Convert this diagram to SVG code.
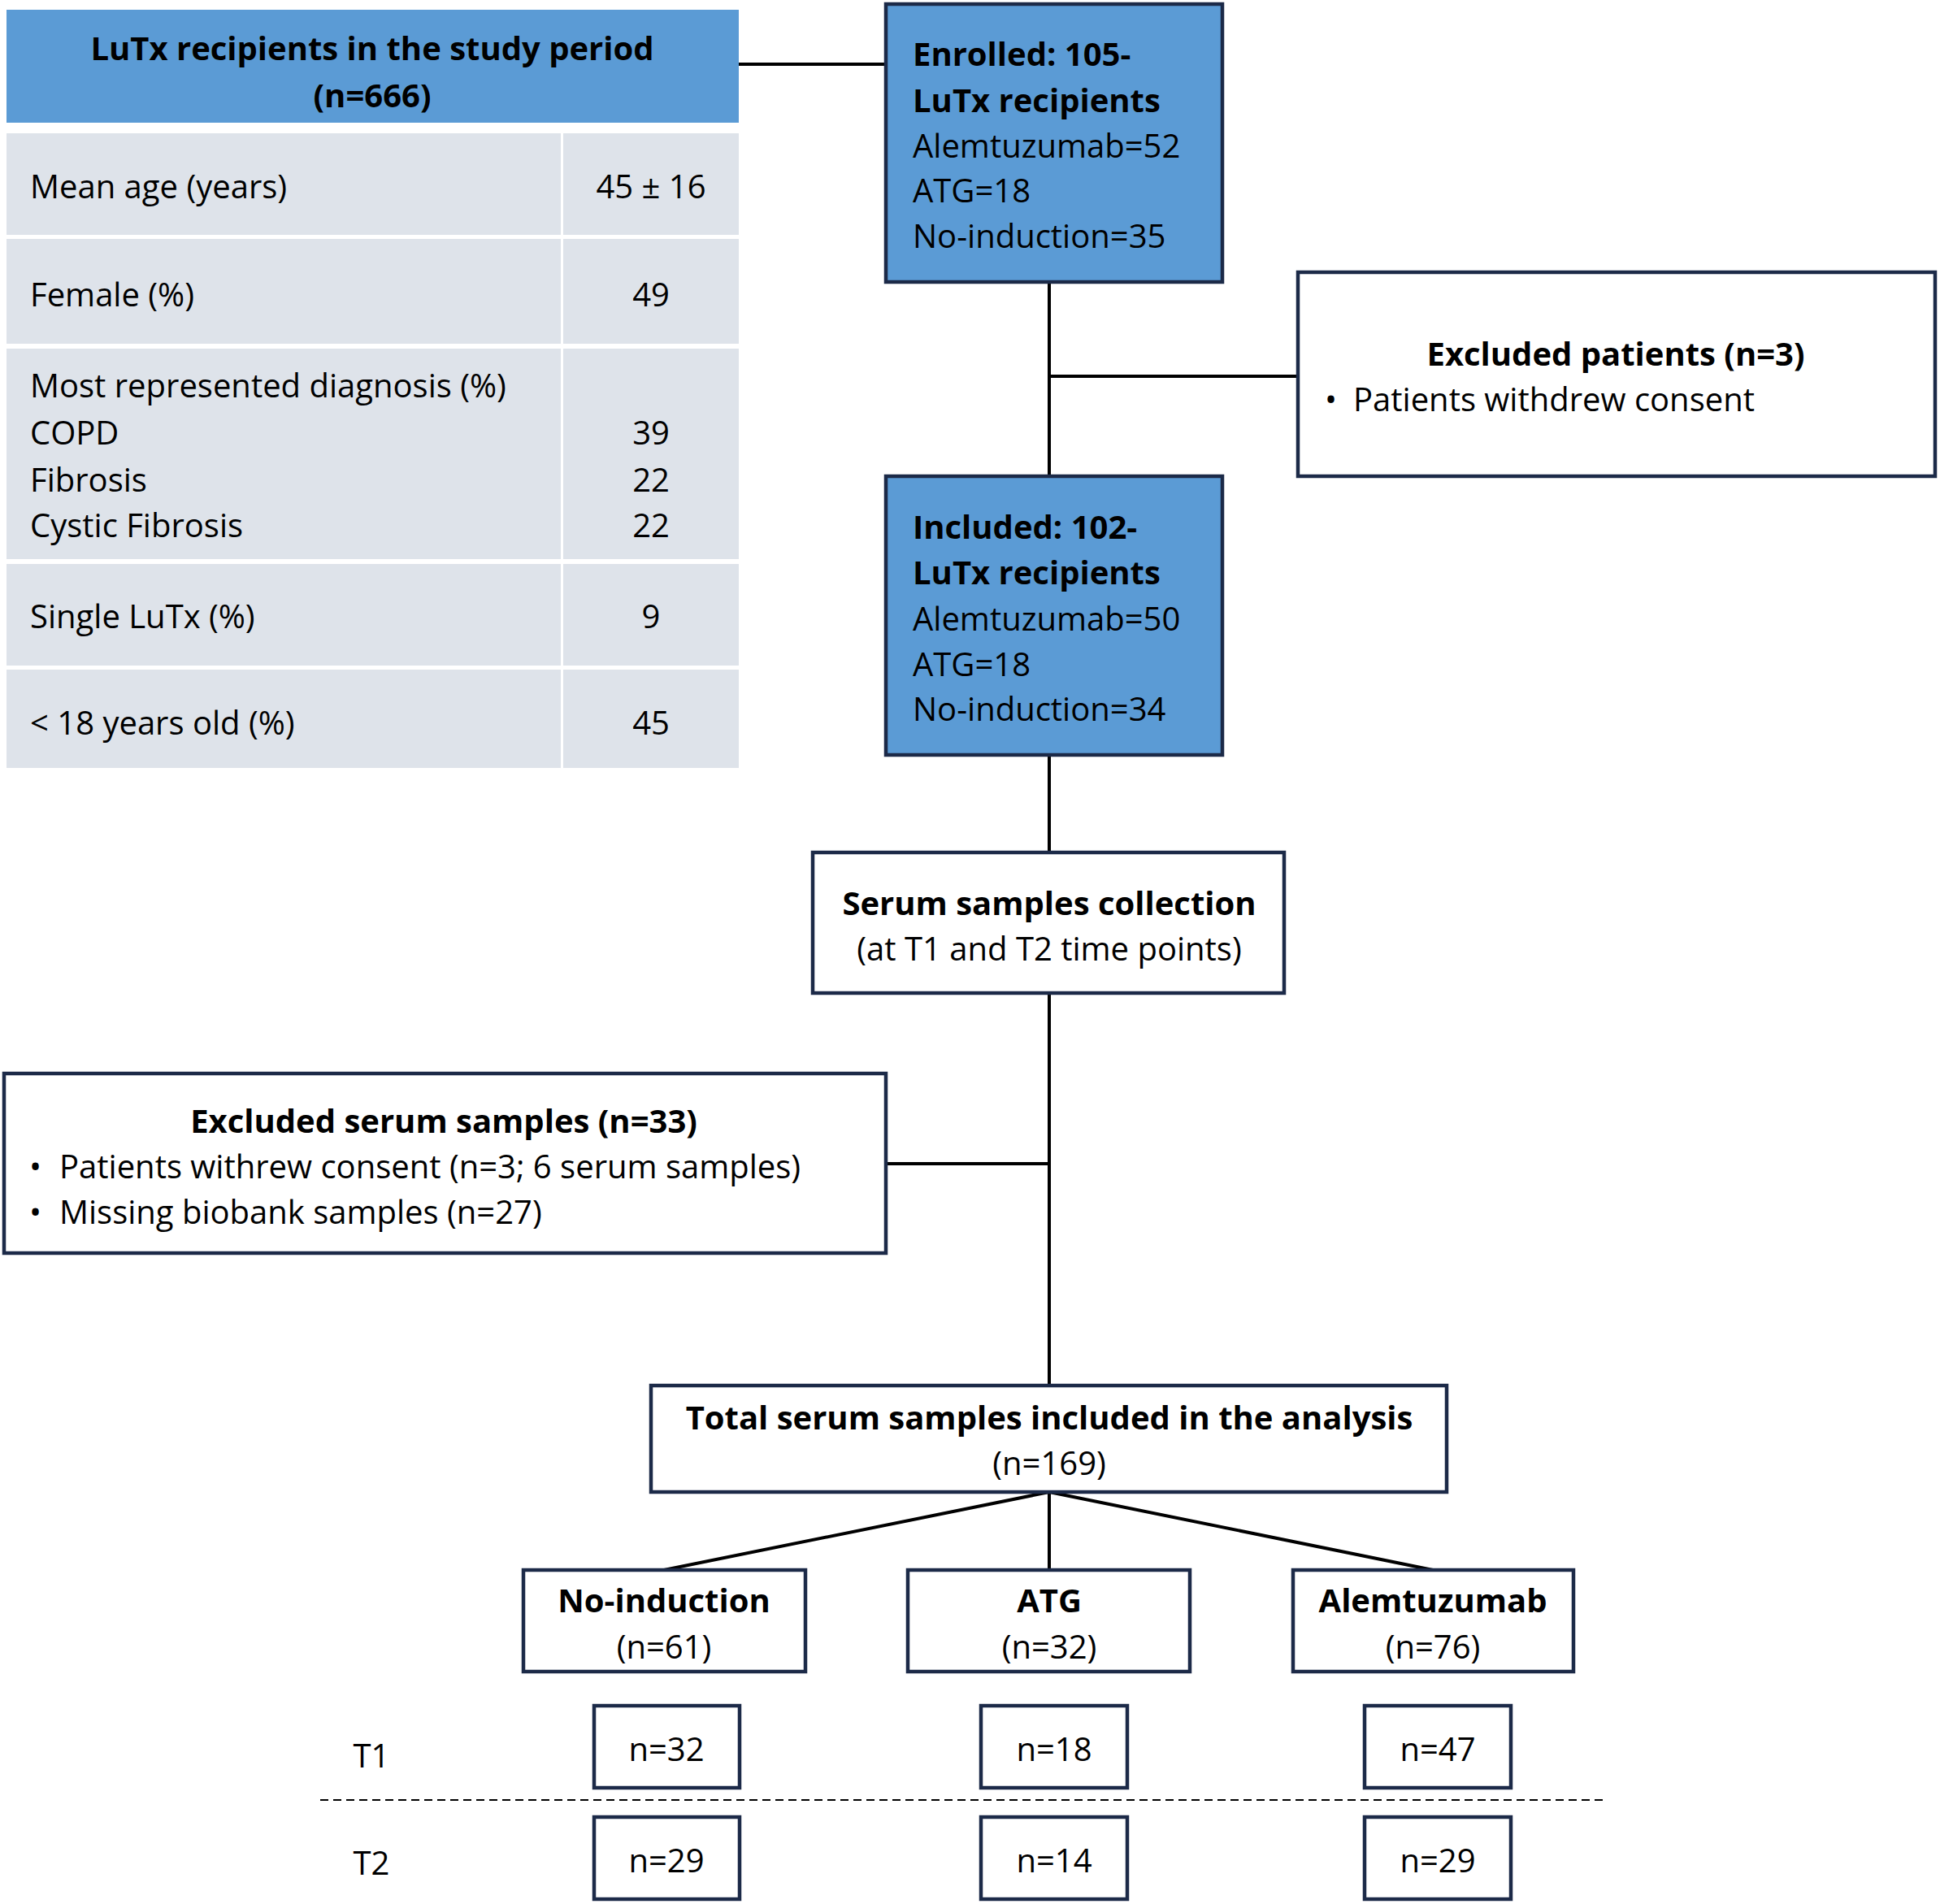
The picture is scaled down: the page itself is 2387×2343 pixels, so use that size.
<svg xmlns="http://www.w3.org/2000/svg" width="2387" height="2343" viewBox="0 0 2387 2343">
<style>
text{font-family:"Open Sans","Liberation Sans",sans-serif;font-size:40px;fill:#000;dominant-baseline:central}
.b{font-weight:bold}
.m{text-anchor:middle}
.blue{fill:#5b9bd5;stroke:#1c2a48;stroke-width:4.5}
.box{fill:#fff;stroke:#1c2a48;stroke-width:4.5}
.cell{fill:#dee3ea}
.ln{stroke:#000;stroke-width:4;fill:none}
</style>
<g id="connectors">
<path class="ln" d="M909 79H1090M1291 347V586M1291 463H1597M1291 929V1049M1291 1222V1705M1090 1432H1291M1291 1836L817 1932M1291 1836V1932M1291 1836L1763 1932"/>
<path d="M394 2215H1976" stroke="#000" stroke-width="2" stroke-dasharray="10 6"/>
</g>
<g id="table">
<rect x="8" y="12" width="901" height="139" fill="#5b9bd5"/>
<text class="b m" x="458" y="58">LuTx recipients in the study period</text>
<text class="b m" x="458" y="116">(n=666)</text>
<rect class="cell" x="8" y="164" width="682" height="125"/><rect class="cell" x="693" y="164" width="216" height="125"/>
<rect class="cell" x="8" y="294" width="682" height="129"/><rect class="cell" x="693" y="294" width="216" height="129"/>
<rect class="cell" x="8" y="429" width="682" height="259"/><rect class="cell" x="693" y="429" width="216" height="259"/>
<rect class="cell" x="8" y="694" width="682" height="125"/><rect class="cell" x="693" y="694" width="216" height="125"/>
<rect class="cell" x="8" y="824" width="682" height="121"/><rect class="cell" x="693" y="824" width="216" height="121"/>
<text x="37" y="228">Mean age (years)</text><text class="m" x="801" y="228">45 ± 16</text>
<text x="37" y="361">Female (%)</text><text class="m" x="801" y="361">49</text>
<text x="37" y="473">Most represented diagnosis (%)</text>
<text x="37" y="531">COPD</text><text class="m" x="801" y="531">39</text>
<text x="37" y="589">Fibrosis</text><text class="m" x="801" y="589">22</text>
<text x="37" y="645">Cystic Fibrosis</text><text class="m" x="801" y="645">22</text>
<text x="37" y="757">Single LuTx (%)</text><text class="m" x="801" y="757">9</text>
<text x="37" y="888">&lt; 18 years old (%)</text><text class="m" x="801" y="888">45</text>
</g>
<g id="enrolled">
<rect class="blue" x="1090" y="5" width="414" height="342"/>
<text class="b" x="1123" y="65">Enrolled: 105-</text>
<text class="b" x="1123" y="122">LuTx recipients</text>
<text x="1123" y="178">Alemtuzumab=52</text>
<text x="1123" y="233">ATG=18</text>
<text x="1123" y="289">No-induction=35</text>
</g>
<g id="excluded-patients">
<rect class="box" x="1597" y="335" width="784" height="251"/>
<text class="b m" x="1988" y="434">Excluded patients (n=3)</text>
<text x="1630" y="490">•</text><text x="1665" y="490">Patients withdrew consent</text>
</g>
<g id="included">
<rect class="blue" x="1090" y="586" width="414" height="343"/>
<text class="b" x="1123" y="647">Included: 102-</text>
<text class="b" x="1123" y="703">LuTx recipients</text>
<text x="1123" y="760">Alemtuzumab=50</text>
<text x="1123" y="816">ATG=18</text>
<text x="1123" y="871">No-induction=34</text>
</g>
<g id="serum">
<rect class="box" x="1000" y="1049" width="580" height="173"/>
<text class="b m" x="1291" y="1110">Serum samples collection</text>
<text class="m" x="1291" y="1166">(at T1 and T2 time points)</text>
</g>
<g id="excluded-serum">
<rect class="box" x="5" y="1321" width="1085" height="221"/>
<text class="b m" x="546" y="1378">Excluded serum samples (n=33)</text>
<text x="36" y="1434">•</text><text x="73" y="1434">Patients withrew consent (n=3; 6 serum samples)</text>
<text x="36" y="1490">•</text><text x="73" y="1490">Missing biobank samples  (n=27)</text>
</g>
<g id="total">
<rect class="box" x="801" y="1705" width="979" height="131"/>
<text class="b m" x="1291" y="1743">Total serum samples included in the analysis</text>
<text class="m" x="1291" y="1799">(n=169)</text>
</g>
<g id="no-induction">
<rect class="box" x="644" y="1932" width="347" height="125"/>
<text class="b m" x="817" y="1968">No-induction</text><text class="m" x="817" y="2025">(n=61)</text>
</g>
<g id="atg">
<rect class="box" x="1117" y="1932" width="347" height="125"/>
<text class="b m" x="1291" y="1968">ATG</text><text class="m" x="1291" y="2025">(n=32)</text>
</g>
<g id="alemtuzumab">
<rect class="box" x="1591" y="1932" width="345" height="125"/>
<text class="b m" x="1763" y="1968">Alemtuzumab</text><text class="m" x="1763" y="2025">(n=76)</text>
</g>
<g id="t-labels">
<text class="m" x="457" y="2159">T1</text>
<text class="m" x="457" y="2291">T2</text>
</g>
<g id="t1-no"><rect class="box" x="731" y="2099" width="179" height="101"/><text class="m" x="820" y="2151">n=32</text></g>
<g id="t1-atg"><rect class="box" x="1207" y="2099" width="180" height="101"/><text class="m" x="1297" y="2151">n=18</text></g>
<g id="t1-alem"><rect class="box" x="1679" y="2099" width="180" height="101"/><text class="m" x="1769" y="2151">n=47</text></g>
<g id="t2-no"><rect class="box" x="731" y="2236" width="179" height="101"/><text class="m" x="820" y="2288">n=29</text></g>
<g id="t2-atg"><rect class="box" x="1207" y="2236" width="180" height="101"/><text class="m" x="1297" y="2288">n=14</text></g>
<g id="t2-alem"><rect class="box" x="1679" y="2236" width="180" height="101"/><text class="m" x="1769" y="2288">n=29</text></g>
</svg>
